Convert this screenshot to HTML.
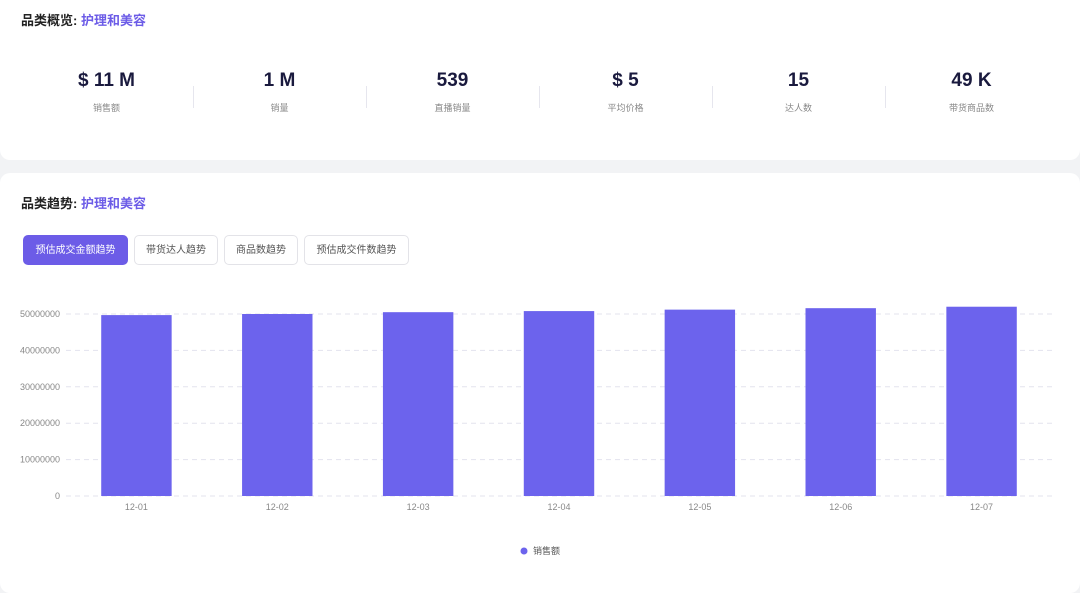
<!DOCTYPE html>
<html><head><meta charset="utf-8">
<style>
body{margin:0;width:1080px;height:572px;background:#f2f3f5;font-family:"Liberation Sans","Noto Sans CJK SC",sans-serif;position:relative;overflow:hidden}
.card{position:absolute;left:0;width:1080px;background:#fff;border-radius:10px}
.title{position:absolute;left:21px;font-size:13px;font-weight:bold;color:#222}
.title span{color:#6c5ce7}
.stat{position:absolute;top:70px;width:173px;text-align:center}
.stat .v{font-size:19px;font-weight:bold;color:#1a1a3e;height:24px}
.stat .l{font-size:9px;color:#888;margin-top:7px}
.div{position:absolute;top:86px;width:1px;height:22px;background:#e6e6ee}
.tab{position:absolute;top:235px;height:30px;line-height:30px;border:1px solid #e3e3e8;border-radius:5px;font-size:10px;color:#555;text-align:center;box-sizing:border-box}
.tab.on{background:#6c5ce7;color:#fff;border-color:#6c5ce7}
</style></head><body>
<div class="card" style="top:-10px;height:170px"></div>
<div class="title" style="top:10px">品类概览: <span>护理和美容</span></div>
<div class="stat" style="left:20px"><div class="v">$ 11 M</div><div class="l">销售额</div></div>
<div class="stat" style="left:193px"><div class="v">1 M</div><div class="l">销量</div></div>
<div class="stat" style="left:366px"><div class="v">539</div><div class="l">直播销量</div></div>
<div class="stat" style="left:539px"><div class="v">$ 5</div><div class="l">平均价格</div></div>
<div class="stat" style="left:712px"><div class="v">15</div><div class="l">达人数</div></div>
<div class="stat" style="left:885px"><div class="v">49 K</div><div class="l">带货商品数</div></div>
<div class="div" style="left:193px"></div><div class="div" style="left:366px"></div><div class="div" style="left:539px"></div><div class="div" style="left:712px"></div><div class="div" style="left:885px"></div>
<div class="card" style="top:173px;height:420px"></div>
<div class="title" style="top:193px">品类趋势: <span>护理和美容</span></div>
<div class="tab on" style="left:23px;width:105px">预估成交金额趋势</div>
<div class="tab" style="left:134px;width:84px">带货达人趋势</div>
<div class="tab" style="left:224px;width:74px">商品数趋势</div>
<div class="tab" style="left:304px;width:105px">预估成交件数趋势</div>
<svg id="chart" style="position:absolute;left:0;top:0" width="1080" height="572"></svg>
<script>
const categories=["12-01","12-02","12-03","12-04","12-05","12-06","12-07"];
const salesValues=[49700000,50000000,50500000,50800000,51200000,51600000,52000000];
const yTicks=[0,10000000,20000000,30000000,40000000,50000000];
const legendLabel="销售额";
const svg=document.getElementById('chart');const NS='http://www.w3.org/2000/svg';
const x0=66,x1=1052,yBase=496,yTop=314,yMax=50000000;
const band=(x1-x0)/categories.length;
const y=v=>yBase-(v/yMax)*(yBase-yTop);
const xc=i=>x0+band*(i+0.5);
function mk(t,a){const e=document.createElementNS(NS,t);for(const k in a)e.setAttribute(k,a[k]);svg.appendChild(e);return e;}
yTicks.forEach(t=>{
 const l=mk('line',{x1:x0,x2:x1,y1:y(t),y2:y(t),stroke:'#e3e3ee','stroke-dasharray':'5,4'});
 
 
 const tx=mk('text',{x:60,y:y(t)+3,'text-anchor':'end','font-size':9,fill:'#888'});tx.textContent=t;
 
 
});
categories.forEach((c,i)=>{
 const w=band*0.5;
 const r=mk('rect',{x:xc(i)-w/2,y:y(salesValues[i]),width:w,height:yBase-y(salesValues[i]),fill:'#6c63ed'});
 
 
 const tx=mk('text',{x:xc(i),y:510,'text-anchor':'middle','font-size':9,fill:'#888'});tx.textContent=c;
 
 
});
const dot=mk('circle',{cx:524,cy:551,r:3.5,fill:'#6c63ed'});


const lt=mk('text',{x:533,y:554,'font-size':9,fill:'#555'});lt.textContent=legendLabel;


</script>
</body></html>
